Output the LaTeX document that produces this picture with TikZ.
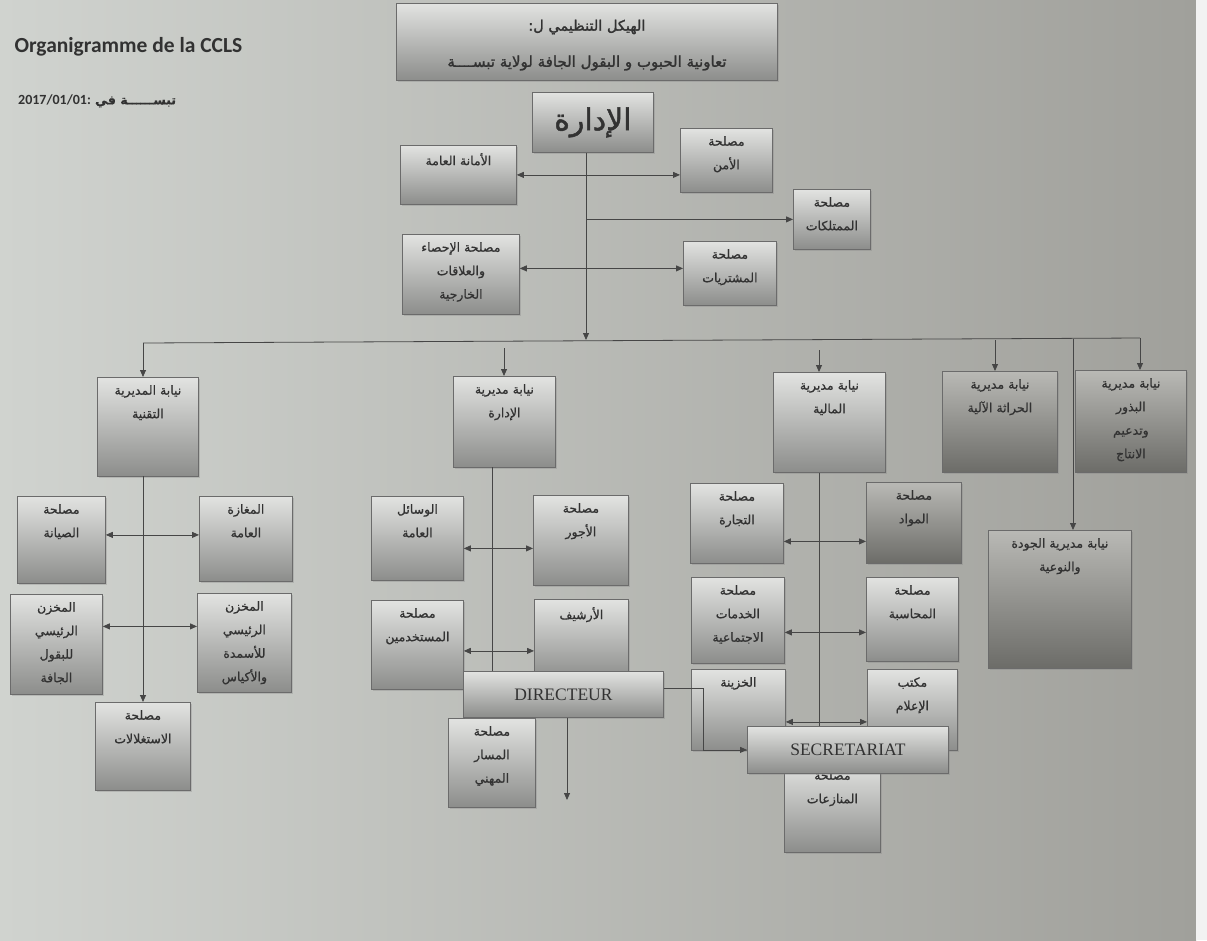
\documentclass[tikz,border=0pt]{standalone}
\usepackage{fontspec}
\setmainfont{Liberation Serif}
\newfontfamily\arabicfont[Script=Arabic,FakeBold=0.8]{DejaVu Sans}
\newfontfamily\arabicbf[Script=Arabic,FakeBold=1.6]{DejaVu Sans}
\newfontfamily\carlito{Carlito}
\TeXXeTstate=1
\usetikzlibrary{arrows.meta,shadows}
\newcommand\ar[1]{\beginR#1\endR}
\definecolor{bgL}{RGB}{208,211,207}
\definecolor{bgR}{RGB}{160,160,155}
\definecolor{bxT}{RGB}{226,227,225}
\definecolor{bxB}{RGB}{140,141,139}
\definecolor{dxT}{RGB}{185,185,181}
\definecolor{dxB}{RGB}{108,108,104}
\definecolor{txt}{RGB}{50,50,50}
\definecolor{ln}{RGB}{70,70,70}
\tikzset{
  obox/.style={draw=ln!80, line width=0.8pt, top color=bxT, bottom color=bxB,
    drop shadow={shadow xshift=2pt,shadow yshift=-2pt,opacity=0.3},
    inner sep=0pt, anchor=north west},
  dbox/.style={obox, top color=dxT, bottom color=dxB},
  lbl/.style={font=\arabicfont\fontsize{12.5}{23.5}\selectfont, text=txt, align=center, anchor=north, inner sep=0pt},
  conn/.style={draw=ln, line width=0.8pt},
  arr/.style={conn, -{Triangle[length=7pt,width=6pt]}},
  darr/.style={conn, {Triangle[length=7pt,width=6pt]}-{Triangle[length=7pt,width=6pt]}},
  latin/.style={font=\fontsize{17.5}{20}\selectfont, text=txt}
}
\newcommand\bx[7][obox]{%
  \node[#1,minimum width=#5pt,minimum height=#6pt] (#2) at (#3,#4) {};%
  \node[lbl] (#2-t) at ([yshift=-8pt]#2.north) {#7};}
\begin{document}
\begin{tikzpicture}[x=1pt,y=-1pt]
\useasboundingbox (0,0) rectangle (1207,940);
\fill[left color=bgL, right color=bgR] (0,0) rectangle (1196,940);
\fill[white!90!gray] (1196,0) rectangle (1207,940);

% headers
\node[anchor=west, font=\carlito\bfseries\fontsize{21.5}{24}\selectfont, text=txt] (org) at (11,47) {Organigramme de la CCLS};
\node[anchor=west, font=\carlito\bfseries\fontsize{14}{16}\selectfont, text=txt, inner sep=0pt] (date) at (18,101) {2017/01/01: {\arabicfont\fontsize{12.5}{14}\selectfont\ar{تبســــــة في}}};

\node[obox, minimum width=381pt, minimum height=77pt] (title) at (396,3) {};
\node[font=\arabicbf\fontsize{14.5}{16}\selectfont, text=txt] (t1) at ([yshift=-24pt]title.north) {\ar{الهيكل التنظيمي ل:}};
\node[font=\arabicbf\fontsize{15}{16}\selectfont, text=txt] (t2) at ([yshift=-60pt]title.north) {\ar{تعاونية الحبوب و البقول الجافة لولاية تبســــة}};

% top level
\node[obox, minimum width=121pt, minimum height=60pt] (idara) at (532,92) {};
\node[font=\arabicbf\fontsize{30}{32}\selectfont, text=txt] (idara-t) at (idara.center) {\ar{الإدارة}};
\bx{amana}{400}{145}{116}{59}{\ar{الأمانة العامة}}
\bx{amn}{680}{128}{92}{64}{\ar{مصلحة}\\\ar{الأمن}}
\bx{mumt}{793}{189}{77}{60}{\ar{مصلحة}\\\ar{الممتلكات}}
\bx{ihsa}{402}{234}{117}{80}{\ar{مصلحة الإحصاء}\\\ar{والعلاقات}\\\ar{الخارجية}}
\bx{musht}{683}{241}{93}{64}{\ar{مصلحة}\\\ar{المشتريات}}

% second row
\bx{taq}{97}{377}{101}{99}{\ar{نيابة المديرية}\\\ar{التقنية}}
\bx{nidara}{453}{376}{102}{91}{\ar{نيابة مديرية}\\\ar{الإدارة}}
\bx{mal}{773}{372}{112}{100}{\ar{نيابة مديرية}\\\ar{المالية}}
\bx[dbox]{hirath}{942}{371}{115}{101}{\ar{نيابة مديرية}\\\ar{الحراثة الآلية}}
\bx[dbox]{budhur}{1075}{370}{111}{102}{\ar{نيابة مديرية}\\\ar{البذور}\\\ar{وتدعيم}\\\ar{الانتاج}}
\bx[dbox]{jawda}{988}{530}{143}{138}{\ar{نيابة مديرية الجودة}\\\ar{والنوعية}}

% left column
\bx{siyana}{17}{496}{88}{87}{\ar{مصلحة}\\\ar{الصيانة}}
\bx{maghaza}{199}{496}{93}{85}{\ar{المغازة}\\\ar{العامة}}
\bx{makh1}{10}{594}{92}{100}{\ar{المخزن}\\\ar{الرئيسي}\\\ar{للبقول}\\\ar{الجافة}}
\bx{makh2}{197}{593}{94}{99}{\ar{المخزن}\\\ar{الرئيسي}\\\ar{للأسمدة}\\\ar{والأكياس}}
\bx{istigh}{95}{702}{95}{88}{\ar{مصلحة}\\\ar{الاستغلالات}}

% middle column
\bx{wasail}{371}{496}{92}{84}{\ar{الوسائل}\\\ar{العامة}}
\bx{ujur}{533}{495}{95}{90}{\ar{مصلحة}\\\ar{الأجور}}
\bx{mustakh}{371}{600}{92}{89}{\ar{مصلحة}\\\ar{المستخدمين}}
\bx{arshif}{534}{599}{94}{80}{\ar{الأرشيف}}
\bx{masar}{448}{718}{87}{89}{\ar{مصلحة}\\\ar{المسار}\\\ar{المهني}}

% right column
\bx{tijara}{690}{483}{93}{80}{\ar{مصلحة}\\\ar{التجارة}}
\bx[dbox]{mawad}{866}{482}{95}{81}{\ar{مصلحة}\\\ar{المواد}}
\bx{khadamat}{691}{577}{93}{86}{\ar{مصلحة}\\\ar{الخدمات}\\\ar{الاجتماعية}}
\bx{muhasaba}{866}{577}{92}{84}{\ar{مصلحة}\\\ar{المحاسبة}}
\bx{khazina}{691}{669}{94}{81}{\ar{الخزينة}}
\bx{iclam}{867}{669}{90}{81}{\ar{مكتب}\\\ar{الإعلام}}
\bx{munaz}{784}{762}{96}{90}{\ar{مصلحة}\\\ar{المنازعات}}

% connectors top
\coordinate (busC) at (586,340);
\coordinate (busL) at (143,343);
\coordinate (busR) at (1140,338);
\coordinate (busJ) at (1073,339);
\coordinate (nidIn) at (504,348);
\coordinate (malTop) at (819,350);
\coordinate (hirIn) at (995,340);
\draw[arr] (idara.south -| busC) -- (busC);
\draw[darr] (amana.east) -- (amana.east -| amn.west);
\draw[arr] (busC |- mumt.west) -- (mumt.west);
\draw[darr] ([yshift=6pt]ihsa.east) -- ([yshift=6pt]ihsa.east -| musht.west);
\draw[conn] (busL) -- (busR);
\draw[arr] (busL) -- (busL |- taq.north);
\draw[arr] (nidIn) -- (nidIn |- nidara.north);
\draw[arr] (malTop) -- (malTop |- mal.north);
\draw[arr] (hirIn) -- (hirIn |- hirath.north);
\draw[arr] (busR) -- (busR |- budhur.north);
\draw[arr] (busJ) -- (busJ |- jawda.north);

% left column connectors
\coordinate (taqL) at (143,476);
\draw[arr] (taqL) -- (taqL |- istigh.north);
\draw[darr] ([yshift=5pt]siyana.east) -- ([yshift=5pt]siyana.east -| maghaza.west);
\draw[darr] ([yshift=18pt]makh1.east) -- ([yshift=18pt]makh1.east -| makh2.west);

% middle column connectors
\coordinate (midL) at (492,467);
\draw[conn] (midL) -- (midL |- 0,671);
\draw[darr] ([yshift=-10pt]wasail.east) -- ([yshift=-10pt]wasail.east -| ujur.west);
\draw[darr] ([yshift=-6pt]mustakh.east) -- ([yshift=-6pt]mustakh.east -| arshif.west);

% right column connectors
\draw[conn] (malTop |- mal.south) -- (malTop |- 0,726);
\draw[darr] ([yshift=-18pt]tijara.east) -- ([yshift=-18pt]tijara.east -| mawad.west);
\draw[darr] ([yshift=-12pt]khadamat.east) -- ([yshift=-12pt]khadamat.east -| muhasaba.west);
\draw[darr] ([yshift=-12pt]khazina.east) -- ([yshift=-12pt]khazina.east -| iclam.west);

% DIRECTEUR and SECRETARIAT
\node[obox, minimum width=200pt, minimum height=46pt] (direct) at (463,671) {};
\node[latin] (direct-t) at (direct.center) {DIRECTEUR};
\node[obox, minimum width=201pt, minimum height=47pt] (secr) at (747,726) {};
\node[latin] (secr-t) at (secr.center) {SECRETARIAT};

\coordinate (dirEnd) at (567,800);
\draw[arr] (dirEnd |- direct.south) -- (dirEnd);
\draw[arr] ([yshift=6pt]direct.east) -- ++(40,0) |- (secr.west);
\end{tikzpicture}
\end{document}
